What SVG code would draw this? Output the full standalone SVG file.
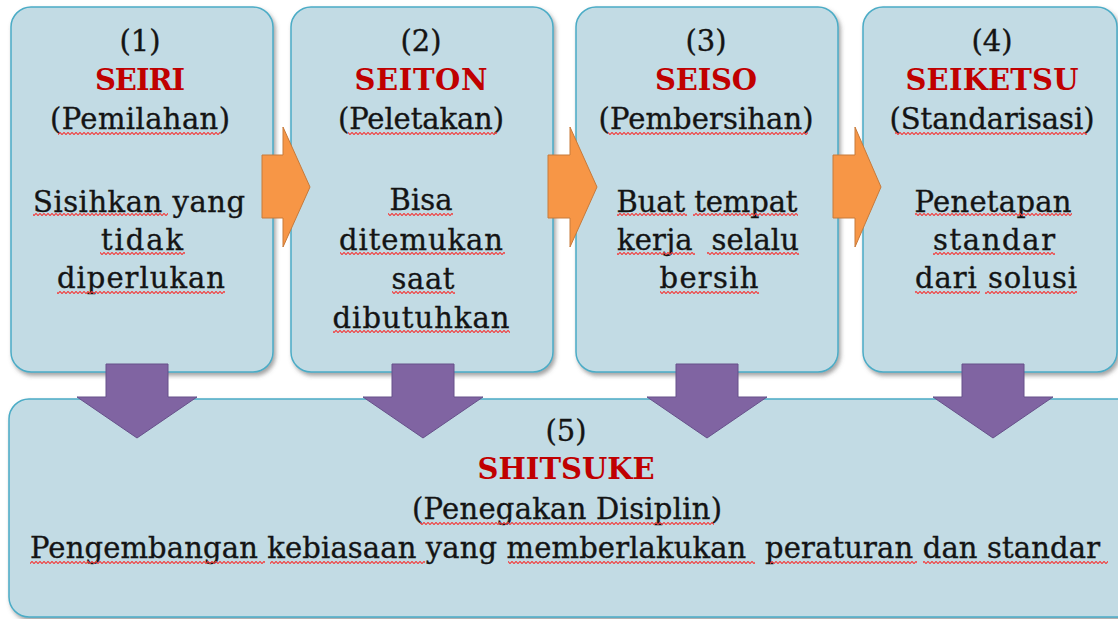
<svg xmlns="http://www.w3.org/2000/svg" width="1118" height="619" viewBox="0 0 1118 619">
  <defs>
    <filter id="shadow" x="-10%" y="-10%" width="120%" height="120%">
      <feDropShadow dx="2" dy="3" stdDeviation="2" flood-color="#555" flood-opacity="0.55"/>
    </filter>
    <pattern id="wave" patternUnits="userSpaceOnUse" x="0" y="0" width="4" height="3">
      <path d="M-1,1.5 L0,0.4 L2,2.6 L4,0.4 L5,1.5" fill="none" stroke="#F23C3C" stroke-width="1.1"/>
    </pattern>
    <style>
      .box { fill: #C2DBE4; stroke: #4BACC6; stroke-width: 1.5; filter: url(#shadow); }
      .t { font-family: "DejaVu Serif", "Liberation Serif", serif; font-size: 29px; fill: #141414; stroke: #141414; stroke-width: 0.35; text-anchor: middle; }
      .h { font-family: "DejaVu Serif", "Liberation Serif", serif; font-size: 29px; font-weight: bold; fill: #C00000; text-anchor: middle; }
      .sq { fill: url(#wave); }
      .orange { fill: #F79646; stroke: #C77A3A; stroke-width: 1; }
      .purple { fill: #8064A2; stroke: #66508A; stroke-width: 1; }
    </style>
  </defs>

  <g id="node-seiri">
    <rect class="box" x="11" y="7" width="262" height="365" rx="20"/>
    <text class="t" x="140" y="51">(1)</text>
    <text class="h" x="140" y="90" textLength="90">SEIRI</text>
    <text class="t" x="140" y="129" textLength="180">(Pemilahan)</text>
    <text class="t" x="139" y="212" textLength="212">Sisihkan yang</text>
    <text class="t" x="142" y="250" textLength="82">tidak</text>
    <text class="t" x="141" y="288" textLength="168">diperlukan</text>
    <rect class="sq" x="58" y="132" width="162" height="3"/>
    <rect class="sq" x="33" y="213" width="135" height="3"/>
    <rect class="sq" x="100" y="252" width="85" height="3"/>
    <rect class="sq" x="57" y="291" width="168" height="3"/>
  </g>

  <g id="node-seiton">
    <rect class="box" x="291" y="7" width="262" height="365" rx="20"/>
    <text class="t" x="421" y="51">(2)</text>
    <text class="h" x="421" y="90" textLength="133">SEITON</text>
    <text class="t" x="421" y="129" textLength="166">(Peletakan)</text>
    <text class="t" x="421" y="210" textLength="63">Bisa</text>
    <text class="t" x="421" y="250" textLength="164">ditemukan</text>
    <text class="t" x="423" y="289" textLength="63">saat</text>
    <text class="t" x="421" y="328" textLength="177">dibutuhkan</text>
    <rect class="sq" x="348" y="132" width="149" height="3"/>
    <rect class="sq" x="388" y="213" width="65" height="3"/>
    <rect class="sq" x="340" y="252" width="165" height="3"/>
    <rect class="sq" x="392" y="291" width="63" height="3"/>
    <rect class="sq" x="333" y="330" width="177" height="3"/>
  </g>

  <g id="node-seiso">
    <rect class="box" x="576" y="7" width="262" height="365" rx="20"/>
    <text class="t" x="706" y="51">(3)</text>
    <text class="h" x="706" y="90" textLength="102">SEISO</text>
    <text class="t" x="706" y="129" textLength="215">(Pembersihan)</text>
    <text class="t" x="707" y="212" textLength="181">Buat tempat</text>
    <text class="t" x="708" y="250" textLength="182" xml:space="preserve">kerja  selalu</text>
    <text class="t" x="709" y="288" textLength="99">bersih</text>
    <rect class="sq" x="608" y="132" width="200" height="3"/>
    <rect class="sq" x="617" y="213" width="70" height="3"/>
    <rect class="sq" x="693" y="213" width="105" height="3"/>
    <rect class="sq" x="617" y="252" width="78" height="3"/>
    <rect class="sq" x="707" y="252" width="92" height="3"/>
    <rect class="sq" x="660" y="291" width="99" height="3"/>
  </g>

  <g id="node-seiketsu">
    <rect class="box" x="863" y="7" width="254" height="365" rx="20"/>
    <text class="t" x="992" y="51">(4)</text>
    <text class="h" x="992" y="90" textLength="173">SEIKETSU</text>
    <text class="t" x="992" y="129" textLength="205">(Standarisasi)</text>
    <text class="t" x="993" y="212" textLength="157">Penetapan</text>
    <text class="t" x="994" y="250" textLength="122">standar</text>
    <text class="t" x="996" y="288" textLength="162">dari solusi</text>
    <rect class="sq" x="895" y="132" width="192" height="3"/>
    <rect class="sq" x="915" y="213" width="157" height="3"/>
    <rect class="sq" x="933" y="252" width="122" height="3"/>
    <rect class="sq" x="915" y="291" width="65" height="3"/>
    <rect class="sq" x="985" y="291" width="92" height="3"/>
  </g>

  <g id="node-shitsuke">
    <rect class="box" x="9" y="399" width="1130" height="218" rx="20"/>
    <text class="t" x="566" y="441">(5)</text>
    <text class="h" x="566" y="479" textLength="177">SHITSUKE</text>
    <text class="t" x="567" y="519" textLength="310">(Penegakan Disiplin)</text>
    <text class="t" x="565" y="558" textLength="1070" xml:space="preserve">Pengembangan kebiasaan yang memberlakukan  peraturan dan standar</text>
    <rect class="sq" x="420" y="522" width="294" height="3"/>
    <rect class="sq" x="30" y="561" width="235" height="3"/>
    <rect class="sq" x="270" y="561" width="155" height="3"/>
    <rect class="sq" x="508" y="561" width="247" height="3"/>
    <rect class="sq" x="770" y="561" width="147" height="3"/>
    <rect class="sq" x="923" y="561" width="185" height="3"/>
  </g>

  <g id="connectors">
    <path id="arrow-1-2" class="orange" d="M262,155 H283 V127 L310,187 L283,247 V218 H262 Z"/>
    <path id="arrow-2-3" class="orange" d="M548,155 H570 V127 L597,187 L570,247 V218 H548 Z"/>
    <path id="arrow-3-4" class="orange" d="M833,155 H855 V127 L881,187 L855,247 V218 H833 Z"/>
    <path id="arrow-1-5" class="purple" d="M106,364 H168 V397 H197 L137,438 L77,397 H106 Z"/>
    <path id="arrow-2-5" class="purple" d="M392,364 H454 V397 H483 L423,438 L363,397 H392 Z"/>
    <path id="arrow-3-5" class="purple" d="M676,364 H738 V397 H767 L707,438 L647,397 H676 Z"/>
    <path id="arrow-4-5" class="purple" d="M962,364 H1024 V397 H1053 L993,438 L933,397 H962 Z"/>
  </g>
</svg>
